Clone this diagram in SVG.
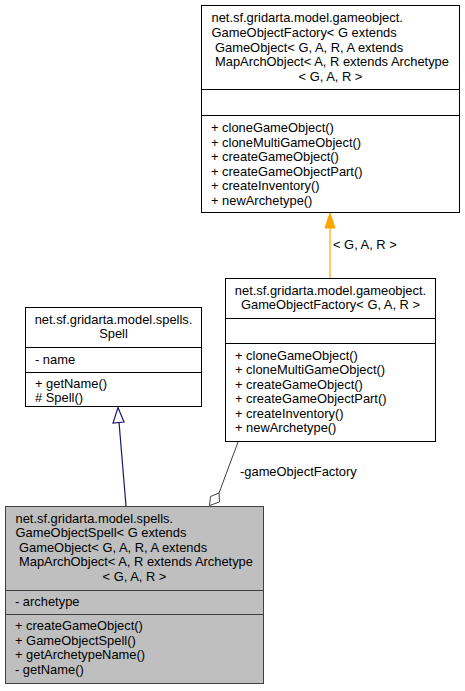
<svg xmlns="http://www.w3.org/2000/svg" width="465" height="691" viewBox="0 0 465 691">
<style>
text{font-family:"Liberation Sans",Arial,sans-serif;font-size:12.9px;fill:#000}
.c{text-anchor:middle}
.box{fill:#fff;stroke:#000;stroke-width:1}
.root{fill:#bfbfbf;stroke:#404040;stroke-width:1}
.sep{stroke:#000;stroke-width:1}
.rsep{stroke:#404040;stroke-width:1}
</style>
<rect width="465" height="691" fill="#fff"/>
<g id="connectors">
  <g id="e_template">
    <line x1="330" y1="278" x2="330" y2="227" stroke="#ffa500" stroke-width="1.2"/>
    <polygon points="330,213 335,228 325,228" fill="#ffa500" stroke="#ffa500"/>
    <text x="333" y="249">&lt; G, A, R &gt;</text>
  </g>
  <g id="e_inherit">
    <line x1="126" y1="506" x2="119" y2="422" stroke="#191970" stroke-width="1.2"/>
    <polygon points="118,407.5 124,422 113,423" fill="#fff" stroke="#191970" stroke-width="1.2"/>
  </g>
  <g id="e_usage">
    <line x1="238" y1="442" x2="219" y2="493" stroke="#404040" stroke-width="1"/>
    <polygon points="209.5,505.5 210.5,496.5 219,493 219.5,502" fill="#fff" stroke="#404040" stroke-width="1"/>
    <text x="240" y="476">-gameObjectFactory</text>
  </g>
</g>
<g id="GameObjectFactoryBase">
  <rect class="box" x="201.5" y="5.5" width="258" height="207"/>
  <line class="sep" x1="201.5" y1="89.5" x2="459.5" y2="89.5"/>
  <line class="sep" x1="201.5" y1="115.5" x2="459.5" y2="115.5"/>
  <text x="211.5" y="22">net.sf.gridarta.model.gameobject.</text>
  <text x="211.5" y="37">GameObjectFactory&lt; G extends</text>
  <text x="215" y="51.5">GameObject&lt; G, A, R, A extends</text>
  <text x="215" y="66">MapArchObject&lt; A, R extends Archetype</text>
  <text class="c" x="330.5" y="80.5">&lt; G, A, R &gt;</text>
  <text x="211" y="132">+ cloneGameObject()</text>
  <text x="211" y="146.5">+ cloneMultiGameObject()</text>
  <text x="211" y="161">+ createGameObject()</text>
  <text x="211" y="175.5">+ createGameObjectPart()</text>
  <text x="211" y="190">+ createInventory()</text>
  <text x="211" y="204.5">+ newArchetype()</text>
</g>
<g id="GameObjectFactory">
  <rect class="box" x="225.5" y="278.5" width="210" height="163"/>
  <line class="sep" x1="225.5" y1="318.5" x2="435.5" y2="318.5"/>
  <line class="sep" x1="225.5" y1="343.5" x2="435.5" y2="343.5"/>
  <text class="c" x="330.5" y="294.5">net.sf.gridarta.model.gameobject.</text>
  <text class="c" x="330.5" y="309">GameObjectFactory&lt; G, A, R &gt;</text>
  <text x="235" y="359.5">+ cloneGameObject()</text>
  <text x="235" y="374">+ cloneMultiGameObject()</text>
  <text x="235" y="388.5">+ createGameObject()</text>
  <text x="235" y="403">+ createGameObjectPart()</text>
  <text x="235" y="417.5">+ createInventory()</text>
  <text x="235" y="432">+ newArchetype()</text>
</g>
<g id="Spell">
  <rect class="box" x="25.5" y="307.5" width="176" height="99"/>
  <line class="sep" x1="25.5" y1="347.5" x2="201.5" y2="347.5"/>
  <line class="sep" x1="25.5" y1="372.5" x2="201.5" y2="372.5"/>
  <text class="c" x="113.5" y="323.5">net.sf.gridarta.model.spells.</text>
  <text class="c" x="113.5" y="338">Spell</text>
  <text x="35" y="363.5">- name</text>
  <text x="35" y="388">+ getName()</text>
  <text x="35" y="402"># Spell()</text>
</g>
<g id="GameObjectSpell">
  <rect class="root" x="5.5" y="506.5" width="258" height="177"/>
  <line class="rsep" x1="5.5" y1="590.5" x2="263.5" y2="590.5"/>
  <line class="rsep" x1="5.5" y1="614.5" x2="263.5" y2="614.5"/>
  <text x="15.5" y="522.5">net.sf.gridarta.model.spells.</text>
  <text x="15.5" y="537">GameObjectSpell&lt; G extends</text>
  <text x="19" y="551.5">GameObject&lt; G, A, R, A extends</text>
  <text x="19" y="566">MapArchObject&lt; A, R extends Archetype</text>
  <text class="c" x="134.5" y="580.5">&lt; G, A, R &gt;</text>
  <text x="15" y="606">- archetype</text>
  <text x="15" y="630">+ createGameObject()</text>
  <text x="15" y="644.5">+ GameObjectSpell()</text>
  <text x="15" y="659">+ getArchetypeName()</text>
  <text x="15" y="673.5">- getName()</text>
</g>
</svg>
